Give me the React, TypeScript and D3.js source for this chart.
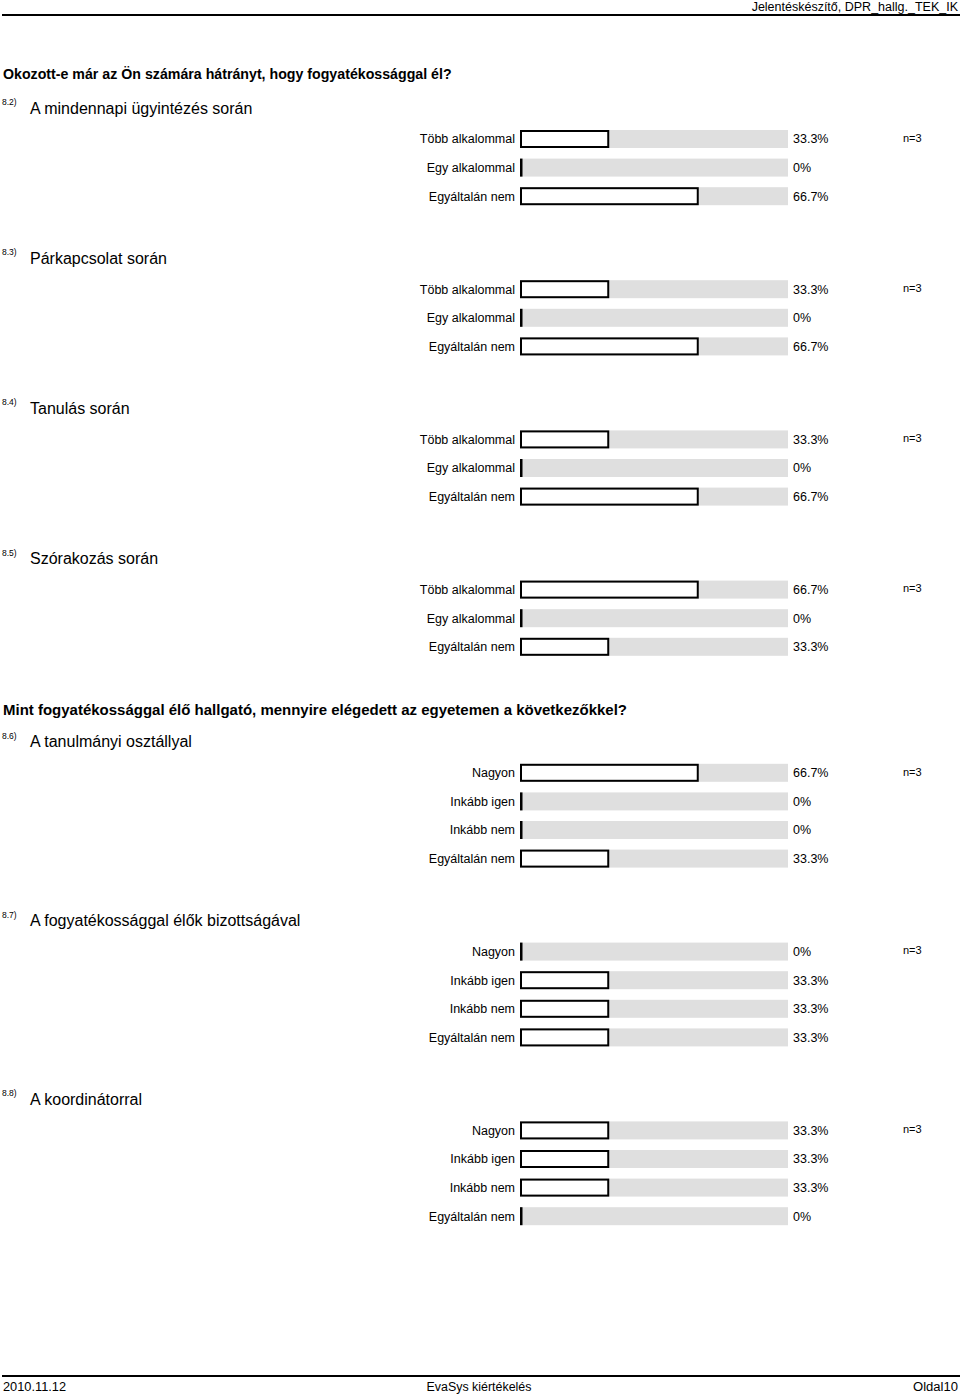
import React from "react";
import * as d3 from "d3";

const headerText = "Jelentéskészítő, DPR_hallg._TEK_IK";
const footerLeft = "2010.11.12";
const footerCenter = "EvaSys kiértékelés";
const footerRight = "Oldal10";

const groupTitles = [
  "Okozott-e már az Ön számára hátrányt, hogy fogyatékossággal él?",
  "Mint fogyatékossággal élő hallgató, mennyire elégedett az egyetemen a következőkkel?",
];

const catsFreq = ["Több alkalommal", "Egy alkalommal", "Egyáltalán nem"];
const catsSat = ["Nagyon", "Inkább igen", "Inkább nem", "Egyáltalán nem"];

const sectionIds = ["8.2)", "8.3)", "8.4)", "8.5)", "8.6)", "8.7)", "8.8)"];
const sectionTitles = [
  "A mindennapi ügyintézés során",
  "Párkapcsolat során",
  "Tanulás során",
  "Szórakozás során",
  "A tanulmányi osztállyal",
  "A fogyatékossággal élők bizottságával",
  "A koordinátorral",
];
const sectionGroup = [0, 0, 0, 0, 1, 1, 1];
const sectionN = [3, 3, 3, 3, 3, 3, 3];

const values82 = [33.3, 0, 66.7];
const values83 = [33.3, 0, 66.7];
const values84 = [33.3, 0, 66.7];
const values85 = [66.7, 0, 33.3];
const values86 = [66.7, 0, 0, 33.3];
const values87 = [0, 33.3, 33.3, 33.3];
const values88 = [33.3, 33.3, 33.3, 0];

const sectionValues = [values82, values83, values84, values85, values86, values87, values88];
const sectionCats = [catsFreq, catsFreq, catsFreq, catsFreq, catsSat, catsSat, catsSat];

const fmt = (v: number) => (v === 0 ? "0%" : `${v.toFixed(1)}%`);

export default function App() {
  const W = 960;
  const H = 1395;
  const x = d3.scaleLinear().domain([0, 100]).range([520, 788]);
  const rowStep = 28.6;
  const barH = 18;
  const font = "'Liberation Sans', Arial, sans-serif";

  const elems: React.ReactNode[] = [];
  let cursor = 74; // center y of first group title
  let prevGroup = -1;

  sectionIds.forEach((id, si) => {
    const g = sectionGroup[si];
    if (g !== prevGroup) {
      if (prevGroup !== -1) cursor += 63;
      elems.push(
        g === 0 ? (
          <text key={`gt${g}`} x={3} y={cursor} dy="0.35em" fontFamily={font}
            fontWeight="bold" fontSize={14.2} fill="#000">
            {groupTitles[g]}
          </text>
        ) : (
          <text key={`gt${g}`} x={3} y={cursor} dy="0.35em" fontFamily={font}
            fontWeight="bold" fontSize={15.5} fill="#000" textLength={624} lengthAdjust="spacingAndGlyphs">
            {groupTitles[g]}
          </text>
        )
      );
      cursor += g === 0 ? 34 : 32;
      prevGroup = g;
    } else {
      cursor += 62;
    }
    const hy = cursor;
    elems.push(
      <text key={`sid${si}`} x={2} y={hy - 6} dy="0.35em" fontFamily={font} fontSize={8.5} fill="#000">
        {id}
      </text>,
      <text key={`st${si}`} x={30} y={hy} dy="0.35em" fontFamily={font} fontSize={16} fill="#000">
        {sectionTitles[si]}
      </text>
    );
    const cats = sectionCats[si];
    const vals = sectionValues[si];
    cats.forEach((c, ci) => {
      const ry = hy + 31 + ci * rowStep;
      const v = vals[ci];
      elems.push(
        <text key={`l${si}-${ci}`} x={515} y={ry} dy="0.35em" textAnchor="end" fontFamily={font}
          fontSize={12.5} fill="#000">{c}</text>,
        <rect key={`bg${si}-${ci}`} x={x(0)} y={ry - barH / 2} width={x(100) - x(0)} height={barH} fill="#dfdfdf" />
      );
      if (v > 0) {
        elems.push(
          <rect key={`b${si}-${ci}`} x={x(0) + 1} y={ry - barH / 2 + 1} width={x(v) - x(0) - 2} height={barH - 2}
            fill="#fff" stroke="#000" strokeWidth={2} />
        );
      } else {
        elems.push(
          <rect key={`b${si}-${ci}`} x={x(0)} y={ry - barH / 2} width={2.5} height={barH} fill="#000" />
        );
      }
      elems.push(
        <text key={`p${si}-${ci}`} x={793} y={ry} dy="0.35em" fontFamily={font} fontSize={12.5} fill="#000">
          {fmt(v)}
        </text>
      );
      if (ci === 0) {
        elems.push(
          <text key={`n${si}`} x={903} y={ry - 1} dy="0.35em" fontFamily={font} fontSize={11} fill="#000">
            {`n=${sectionN[si]}`}
          </text>
        );
      }
    });
    cursor = hy + 31 + (cats.length - 1) * rowStep;
  });

  return (
    <svg width={W} height={H} style={{ position: "absolute", left: 0, top: 0, background: "#fff" }}>
      <rect x={0} y={0} width={W} height={H} fill="#fff" />
      <text x={958} y={7} dy="0.35em" textAnchor="end" fontFamily={font} fontSize={12.5} fill="#000">
        {headerText}
      </text>
      <line x1={2} x2={960} y1={15} y2={15} stroke="#000" strokeWidth={2} />
      {elems}
      <line x1={2} x2={960} y1={1376} y2={1376} stroke="#000" strokeWidth={2} />
      <text x={3} y={1387} dy="0.35em" fontFamily={font} fontSize={12.5} fill="#000" textLength={63} lengthAdjust="spacingAndGlyphs">{footerLeft}</text>
      <text x={479} y={1387} dy="0.35em" textAnchor="middle" fontFamily={font} fontSize={12.5} fill="#000" textLength={105} lengthAdjust="spacingAndGlyphs">{footerCenter}</text>
      <text x={958} y={1387} dy="0.35em" textAnchor="end" fontFamily={font} fontSize={12.5} fill="#000" textLength={45} lengthAdjust="spacingAndGlyphs">{footerRight}</text>
    </svg>
  );
}
